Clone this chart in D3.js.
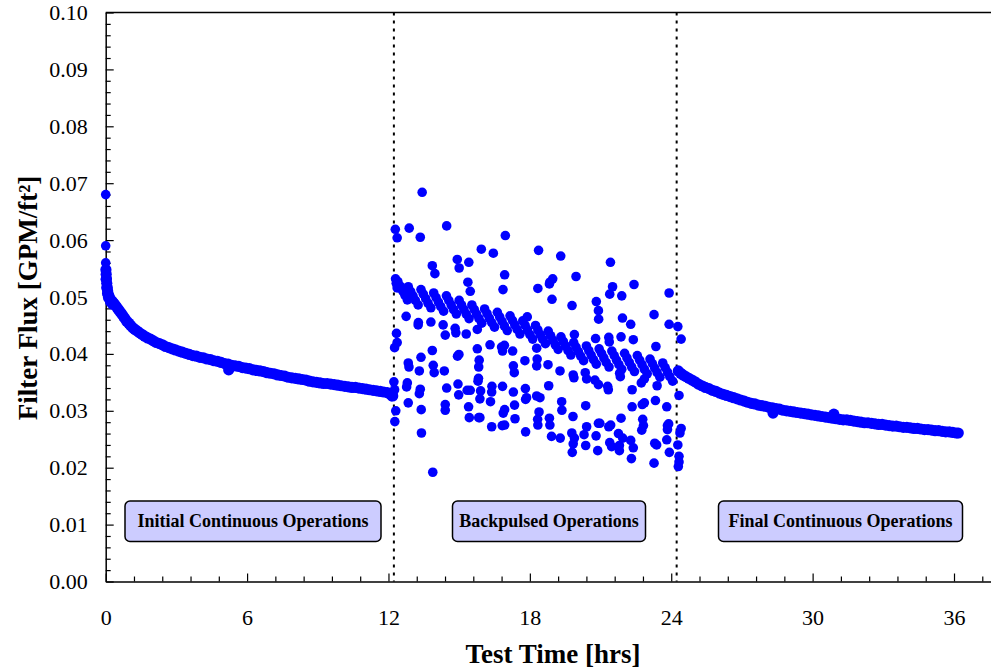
<!DOCTYPE html>
<html><head><meta charset="utf-8">
<script src="https://cdn.jsdelivr.net/npm/d3@7"></script>
<style>body{margin:0;background:#fff}svg{display:block}</style>
</head><body><svg id="c" width="991" height="669"></svg>
<script>
// ---------- DATA ----------
const initialPeaks = [[0,0.068],[0,0.059],[0,0.056]];
const initialOps = [
[0.01,0.0548],[0.02,0.0540],[0.02,0.0531],[0.03,0.0532],[0.045,0.0524],[0.05,0.0516],[0.06,0.0517],[0.08,0.0511],[0.08,0.0506],[0.10,0.0506],[0.12,0.0499],[0.13,0.0502],[0.17,0.0498],[0.20,0.0492],[0.22,0.0495],[0.28,0.0492],[0.30,0.0487],[0.34,0.0489],[0.40,0.0486],[0.47,0.0482],[0.54,0.0478],[0.61,0.0474],[0.68,0.0470],[0.75,0.0466],[0.82,0.0462],[0.90,0.0457],[0.98,0.0454],[1.06,0.0450],[1.15,0.0446],[1.24,0.0443],[1.34,0.0440],[1.44,0.0437],[1.55,0.0434],[1.66,0.0431],[1.78,0.0428],[1.90,0.0426],[2.02,0.0423],[2.15,0.0420],[2.28,0.0418],[2.41,0.0416],[2.54,0.0413],[2.68,0.0411],[2.82,0.0409],[2.96,0.0407],[3.10,0.0405],[3.25,0.0403],[3.40,0.0401],[3.55,0.0399],[3.70,0.0397],[3.85,0.0396],[4.00,0.0394],[4.15,0.0393],[4.30,0.0391],[4.45,0.0390],[4.60,0.0388],[4.75,0.0387],[4.90,0.0385],[5.05,0.0383],[5.20,0.0382],[5.22,0.0372],[5.35,0.0380],[5.50,0.0379],[5.65,0.0378],[5.80,0.0376],[5.95,0.0375],[6.10,0.0374],[6.25,0.0372],[6.40,0.0371],[6.55,0.0370],[6.70,0.0369],[6.85,0.0367],[7.00,0.0366],[7.15,0.0365],[7.30,0.0363],[7.45,0.0362],[7.60,0.0361],[7.75,0.0359],[7.90,0.0358],[8.05,0.0357],[8.20,0.0356],[8.35,0.0355],[8.50,0.0354],[8.65,0.0352],[8.80,0.0351],[8.95,0.0350],[9.10,0.0349],[9.25,0.0348],[9.40,0.0348],[9.55,0.0347],[9.70,0.0346],[9.85,0.0345],[10.00,0.0344],[10.15,0.0343],[10.30,0.0342],[10.45,0.0341],[10.60,0.0341],[10.75,0.0340],[10.90,0.0339],[11.05,0.0338],[11.20,0.0337],[11.35,0.0336],[11.50,0.0335],[11.65,0.0334],[11.80,0.0333],[11.95,0.0332],[12.05,0.0330],[12.12,0.0328],[12.18,0.0326]];

const backpulsedBand = [[12.30,0.0532],[12.33,0.0524],[12.37,0.0516],[12.40,0.0527],[12.50,0.0519],[12.60,0.0511],[12.70,0.0503],[12.80,0.0495],
[12.84,0.0518],[12.94,0.0510],[13.04,0.0502],[13.14,0.0494],[13.26,0.0486],
[13.38,0.0513],[13.48,0.0505],[13.58,0.0497],[13.68,0.0489],[13.80,0.0481],
[13.92,0.0507],[14.02,0.0499],[14.12,0.0491],[14.22,0.0483],[14.34,0.0475],
[14.46,0.0502],[14.56,0.0494],[14.66,0.0486],[14.76,0.0478],[14.88,0.0470],
[15.00,0.0494],[15.10,0.0486],[15.20,0.0478],[15.30,0.0470],[15.42,0.0462],
[15.54,0.0486],[15.64,0.0478],[15.74,0.0470],[15.84,0.0462],[15.96,0.0454],
[16.08,0.0479],[16.18,0.0471],[16.28,0.0463],[16.38,0.0455],[16.50,0.0447],
[16.62,0.0473],[16.72,0.0465],[16.82,0.0457],[16.92,0.0449],[17.04,0.0441],
[17.16,0.0467],[17.26,0.0459],[17.36,0.0451],[17.46,0.0443],[17.58,0.0435],
[17.70,0.0458],[17.80,0.0450],[17.90,0.0442],[18.00,0.0434],[18.12,0.0426],
[18.24,0.0450],[18.34,0.0442],[18.44,0.0434],[18.54,0.0426],[18.66,0.0418],
[18.78,0.0440],[18.88,0.0432],[18.98,0.0424],[19.08,0.0416],[19.20,0.0408],
[19.32,0.0430],[19.42,0.0422],[19.52,0.0414],[19.62,0.0406],[19.74,0.0398],
[19.86,0.0420],[19.96,0.0412],[20.06,0.0404],[20.16,0.0396],[20.28,0.0388],
[20.40,0.0414],[20.50,0.0406],[20.60,0.0398],[20.70,0.0390],[20.82,0.0382],
[20.94,0.0409],[21.04,0.0401],[21.14,0.0393],[21.24,0.0385],[21.36,0.0377],
[21.48,0.0405],[21.58,0.0397],[21.68,0.0389],[21.78,0.0381],[21.90,0.0373],
[22.02,0.0401],[22.12,0.0393],[22.22,0.0385],[22.32,0.0377],[22.44,0.0369],
[22.56,0.0397],[22.66,0.0389],[22.76,0.0381],[22.86,0.0373],[22.98,0.0365],
[23.10,0.0391],[23.20,0.0383],[23.30,0.0375],[23.40,0.0367],[23.52,0.0359],
[23.64,0.0384],[23.74,0.0376],[23.84,0.0368],[23.94,0.0360],[24.06,0.0352]];

const backpulsedScatter = [[13.43,0.0684],[12.29,0.0619],[12.37,0.0604],[12.88,0.0621],[13.35,0.0605],[14.47,0.0625],[16.96,0.0608],[15.94,0.0584],[16.45,0.0577],[14.92,0.0566],[15.00,0.0551],[15.41,0.0561],[13.86,0.0555],[13.97,0.0541],[16.93,0.0539],[15.37,0.0526],[15.47,0.0510],[16.86,0.0513],[18.37,0.0582],[19.31,0.0572],[21.42,0.0561],[19.96,0.0536],[18.85,0.0526],[18.97,0.0532],[18.83,0.0523],[18.94,0.0496],[18.34,0.0515],[19.79,0.0485],[21.51,0.0518],[21.39,0.0505],[21.90,0.0502],[22.42,0.0522],[20.82,0.0492],[20.91,0.0476],[20.92,0.0461],[23.27,0.0469],[23.91,0.0507],[21.93,0.0463],[22.28,0.0452],[23.91,0.0452],[24.28,0.0448],[24.42,0.0426],[21.87,0.0430],[22.39,0.0425],[21.35,0.0429],[21.37,0.0421],[20.79,0.0427],[19.89,0.0434],[23.35,0.0413],
[12.75,0.0466],[13.26,0.0451],[13.27,0.0455],[13.80,0.0456],[14.32,0.0451],[14.41,0.0433],[14.83,0.0445],[14.86,0.0437],[15.30,0.0435],[15.77,0.0443],[16.31,0.0416],[16.80,0.0412],[16.92,0.0415],[16.84,0.0405],[17.27,0.0405],[17.89,0.0465],[18.29,0.0410],[12.34,0.0436],[12.37,0.0420],[12.26,0.0411],[13.86,0.0406],[14.93,0.0396],[14.99,0.0399],[15.77,0.0409],[13.38,0.0394],[12.84,0.0384],[12.87,0.0377],[13.90,0.0380],[13.94,0.0367],[13.31,0.0370],[14.37,0.0370],[15.85,0.0389],[15.83,0.0377],[17.30,0.0379],[17.34,0.0367],[17.79,0.0388],[18.31,0.0391],[18.29,0.0379],[18.77,0.0381],[19.28,0.0370],[19.84,0.0363],[19.87,0.0358],[20.35,0.0367],[20.41,0.0356],[20.76,0.0354],[20.91,0.0346],[21.30,0.0343],[21.33,0.0337],[21.81,0.0366],[21.84,0.0360],[22.34,0.0337],[22.73,0.0349],[22.86,0.0356],[23.40,0.0344],[24.33,0.0327],
[12.23,0.0351],[12.26,0.0337],[12.13,0.0325],[12.31,0.0300],[12.27,0.0281],[12.80,0.0349],[12.77,0.0342],[13.35,0.0338],[13.31,0.0330],[12.84,0.0314],[13.39,0.0302],[13.40,0.0261],[13.88,0.0192],[14.47,0.0340],[14.41,0.0311],[14.41,0.0301],[14.95,0.0347],[14.98,0.0328],[15.34,0.0336],[15.47,0.0336],[15.40,0.0307],[15.43,0.0288],[15.82,0.0357],[15.80,0.0352],[15.91,0.0335],[15.88,0.0321],[15.83,0.0288],[15.88,0.0288],[16.39,0.0343],[16.38,0.0333],[16.33,0.0316],[16.38,0.0272],[16.84,0.0343],[16.93,0.0302],[16.87,0.0296],[16.83,0.0274],[16.93,0.0275],[17.30,0.0333],[17.35,0.0310],[17.37,0.0286],[17.81,0.0339],[17.82,0.0320],[17.86,0.0323],[17.82,0.0263],[18.29,0.0326],[18.43,0.0323],[18.39,0.0298],[18.33,0.0285],[18.34,0.0275],[18.80,0.0344],[18.83,0.0287],[18.85,0.0275],[18.92,0.0255],[19.35,0.0316],[19.36,0.0301],[19.29,0.0252],[19.83,0.0290],[19.78,0.0261],[19.89,0.0252],[19.84,0.0242],[19.80,0.0227],[20.37,0.0309],[20.41,0.0272],[20.30,0.0258],[20.37,0.0239],[20.81,0.0256],[20.88,0.0230],[20.91,0.0278],[20.97,0.0278],[21.35,0.0272],[21.43,0.0275],[21.39,0.0244],[21.47,0.0237],[21.80,0.0239],[21.80,0.0230],[21.76,0.0260],[21.94,0.0252],[21.87,0.0287],[22.34,0.0307],[22.28,0.0248],[22.39,0.0235],[22.31,0.0216],[22.77,0.0311],[22.86,0.0314],[22.79,0.0285],[22.82,0.0274],[22.75,0.0266],[23.33,0.0318],[23.30,0.0243],[23.38,0.0240],[23.27,0.0208],[23.81,0.0307],[23.84,0.0274],[23.89,0.0277],[23.84,0.0267],[23.81,0.0249],[23.92,0.0227],[24.28,0.0240],[24.33,0.0220],[24.33,0.0210],[24.30,0.0202],[24.42,0.0269],[24.37,0.0261]];

const finalOps = [[24.30,0.0370],[24.40,0.0366],[24.50,0.0363],[24.62,0.0360],[24.75,0.0357],[24.88,0.0354],[25.01,0.0351],[25.15,0.0347],[25.30,0.0344],[25.45,0.0341],[25.60,0.0339],[25.75,0.0336],[25.90,0.0334],[26.05,0.0331],[26.20,0.0329],[26.35,0.0327],[26.50,0.0325],[26.65,0.0323],[26.80,0.0321],[26.95,0.0319],[27.10,0.0317],[27.25,0.0315],[27.40,0.0313],[27.55,0.0312],[27.70,0.0310],[27.85,0.0309],[28.00,0.0308],[28.15,0.0306],[28.30,0.0305],[28.32,0.0296],[28.45,0.0304],[28.60,0.0303],[28.75,0.0301],[28.90,0.0300],[29.05,0.0299],[29.20,0.0298],[29.35,0.0297],[29.50,0.0296],[29.65,0.0295],[29.80,0.0294],[29.95,0.0293],[30.10,0.0292],[30.25,0.0291],[30.40,0.0290],[30.55,0.0289],[30.70,0.0288],[30.85,0.0287],[30.90,0.0294],[31.00,0.0286],[31.15,0.0285],[31.30,0.0284],[31.45,0.0284],[31.60,0.0283],[31.75,0.0282],[31.90,0.0281],[32.05,0.0280],[32.20,0.0279],[32.35,0.0279],[32.50,0.0278],[32.65,0.0277],[32.80,0.0276],[32.95,0.0276],[33.10,0.0275],[33.25,0.0274],[33.40,0.0273],[33.55,0.0273],[33.70,0.0272],[33.85,0.0271],[34.00,0.0271],[34.15,0.0270],[34.30,0.0269],[34.45,0.0269],[34.60,0.0268],[34.75,0.0267],[34.90,0.0267],[35.05,0.0266],[35.20,0.0265],[35.35,0.0265],[35.50,0.0264],[35.65,0.0263],[35.80,0.0263],[35.95,0.0262],[36.10,0.0261],[36.18,0.0261]];

const xMajorTicks = [0,6,12,18,24,30,36];
const xMinorTicks = [1.2,2.4,3.6,4.8,7.2,8.4,9.6,10.8,13.2,14.4,15.6,16.8,19.2,20.4,21.6,22.8,25.2,26.4,27.6,28.8,31.2,32.4,33.6,34.8,37.2];
const yMajorTicks = [0,0.01,0.02,0.03,0.04,0.05,0.06,0.07,0.08,0.09,0.10];
const yMinorTicks = [0.002,0.004,0.006,0.008,0.012,0.014,0.016,0.018,0.022,0.024,0.026,0.028,0.032,0.034,0.036,0.038,0.042,0.044,0.046,0.048,0.052,0.054,0.056,0.058,0.062,0.064,0.066,0.068,0.072,0.074,0.076,0.078,0.082,0.084,0.086,0.088,0.092,0.094,0.096,0.098];
const phaseBoundaries = [12.23, 24.23];
const phaseLabels = ["Initial Continuous Operations","Backpulsed Operations","Final Continuous Operations"];
const xTitle = "Test Time [hrs]";
const yTitle = "Filter Flux [GPM/ft²]";

// ---------- LAYOUT ----------
const svg = d3.select("#c");
const x = d3.scaleLinear().domain([0, 37.57]).range([105.7, 991]);
const y = d3.scaleLinear().domain([0, 0.1]).range([581.5, 12.5]);
const serif = "'Liberation Serif','Times New Roman',serif";

// phase separators
svg.append("g").selectAll("line").data(phaseBoundaries).join("line")
  .attr("x1", d => x(d)).attr("x2", d => x(d))
  .attr("y1", y(0.1)).attr("y2", y(0))
  .attr("stroke", "#000").attr("stroke-width", 2).attr("stroke-dasharray", "3,5");

// axes
const gx = svg.append("g").attr("transform", `translate(0,${y(0)})`);
gx.call(d3.axisBottom(x).tickValues(xMajorTicks).tickSize(-8).tickSizeOuter(0).tickPadding(28).tickFormat(d3.format("d")));
const gxm = svg.append("g").attr("transform", `translate(0,${y(0)})`);
gxm.call(d3.axisBottom(x).tickValues(xMinorTicks).tickSize(-5).tickSizeOuter(0).tickFormat(""));
gxm.select(".domain").remove();

const gy = svg.append("g").attr("transform", `translate(${x(0)},0)`);
gy.call(d3.axisLeft(y).tickValues(yMajorTicks).tickSize(-8).tickSizeOuter(0).tickPadding(18).tickFormat(d3.format(".2f")));
const gym = svg.append("g").attr("transform", `translate(${x(0)},0)`);
gym.call(d3.axisLeft(y).tickValues(yMinorTicks).tickSize(-5).tickSizeOuter(0).tickFormat(""));
gym.select(".domain").remove();

svg.selectAll("g").attr("font-family", serif);
svg.selectAll(".domain").attr("stroke", "#000").attr("stroke-width", 1.5);
svg.selectAll(".tick line").attr("stroke", "#000").attr("stroke-width", 1.2);
svg.selectAll(".tick text").attr("font-family", serif).attr("font-size", 22).attr("fill", "#000");

// top frame line
svg.append("line").attr("x1", x(0)).attr("x2", 991).attr("y1", y(0.1)).attr("y2", y(0.1))
  .attr("stroke", "#000").attr("stroke-width", 1.5);

// titles
svg.append("text").attr("x", 553).attr("y", 663).attr("text-anchor", "middle")
  .attr("font-family", serif).attr("font-weight", "bold").attr("font-size", 27).text(xTitle);
svg.append("text").attr("transform", "translate(37,298) rotate(-90)").attr("text-anchor", "middle")
  .attr("font-family", serif).attr("font-weight", "bold").attr("font-size", 27).text(yTitle);

// points: dense continuous runs drawn slightly larger so they merge into a band
const pts = svg.append("g");
pts.selectAll("circle.cont").data([...initialOps, ...finalOps]).join("circle").attr("class", "cont")
  .attr("cx", d => x(d[0])).attr("cy", d => y(d[1])).attr("r", 5.6).attr("fill", "#0000ff");
pts.selectAll("circle.sc").data([...initialPeaks, ...backpulsedBand, ...backpulsedScatter]).join("circle").attr("class", "sc")
  .attr("cx", d => x(d[0])).attr("cy", d => y(d[1])).attr("r", 4.8).attr("fill", "#0000ff");

// phase label boxes
const boxes = [{cx: 253, w: 256}, {cx: 549, w: 193}, {cx: 840.5, w: 244}];
const boxTop = 501, boxH = 40.5;
const bg = svg.append("g").selectAll("g").data(phaseLabels).join("g");
bg.append("rect")
  .attr("x", (d, i) => boxes[i].cx - boxes[i].w / 2).attr("y", boxTop)
  .attr("width", (d, i) => boxes[i].w).attr("height", boxH)
  .attr("rx", 5).attr("ry", 5)
  .attr("fill", "#ccccff").attr("stroke", "#000").attr("stroke-width", 1.5);
bg.append("text")
  .attr("x", (d, i) => boxes[i].cx).attr("y", boxTop + boxH / 2 + 6)
  .attr("text-anchor", "middle").attr("font-family", serif).attr("font-weight", "bold")
  .attr("font-size", 18).attr("fill", "#000").text(d => d);
</script></body></html>
